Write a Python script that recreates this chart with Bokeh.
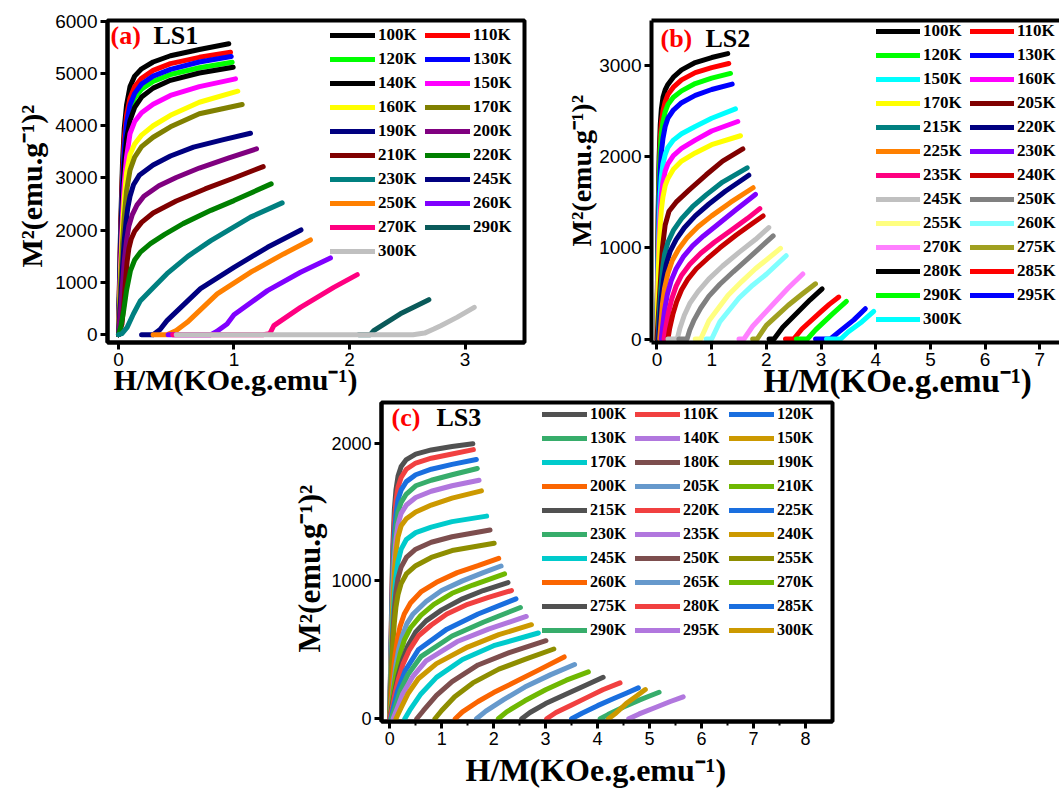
from bokeh.plotting import figure
from bokeh.models import Range1d, FixedTicker, Legend, LegendItem, Label, LinearAxis, Spacer, Title
from bokeh.layouts import column, row
from bokeh.embed import file_html
from bokeh.resources import INLINE

# ---------------- Panel (a) LS1 ----------------
a_temps = [100, 110, 120, 130, 140, 150, 160, 170, 190, 200, 210, 220, 230, 245, 250, 260, 270, 290, 300]
a_xlow = [0, 0.01, 0.02, 0.035, 0.05, 0.07, 0.1, 0.14, 0.2, 0.3, 0.45, 0.7]
a_x = [
    a_xlow + [0.955],
    a_xlow + [0.97],
    a_xlow + [0.984],
    a_xlow + [0.976],
    a_xlow + [0.993],
    a_xlow + [1.013],
    a_xlow + [1.033],
    a_xlow + [1.071],
    [0, 0.02, 0.035, 0.05, 0.065, 0.08, 0.1, 0.13, 0.18, 0.3, 0.45, 0.65, 0.9, 1.143],
    [0, 0.02, 0.035, 0.05, 0.07, 0.09, 0.12, 0.16, 0.22, 0.35, 0.5, 0.7, 0.95, 1.195],
    [0, 0.03, 0.045, 0.06, 0.075, 0.09, 0.11, 0.14, 0.2, 0.3, 0.5, 0.75, 1.0, 1.253],
    [0, 0.02, 0.045, 0.07, 0.104, 0.14, 0.19, 0.277, 0.4, 0.56, 0.8, 1.0, 1.322],
    [0, 0.03, 0.075, 0.13, 0.19, 0.3, 0.42, 0.6, 0.8, 1.143, 1.417],
    [0.2, 0.3, 0.36, 0.42, 0.71, 1.0, 1.29, 1.58],
    [0.3, 0.42, 0.5, 0.595, 0.855, 1.143, 1.43, 1.662],
    [0.43, 0.8, 0.85, 0.94, 1.0, 1.29, 1.576, 1.835],
    [0.47, 1.25, 1.31, 1.345, 1.576, 1.864, 2.067],
    [2.08, 2.18, 2.21, 2.44, 2.687],
    [0.5, 2.55, 2.65, 2.73, 2.79, 2.93, 3.08],
]
a_y = [
    [0, 1200, 2200, 3300, 3950, 4400, 4750, 4950, 5090, 5220, 5340, 5460, 5569],
    [0, 1100, 2000, 3100, 3750, 4200, 4530, 4750, 4910, 5060, 5190, 5310, 5408],
    [0, 900, 1750, 2800, 3450, 3950, 4300, 4530, 4700, 4850, 4980, 5110, 5217],
    [0, 1000, 1850, 2900, 3550, 4050, 4400, 4620, 4800, 4950, 5080, 5220, 5326],
    [0, 850, 1650, 2600, 3250, 3750, 4100, 4350, 4550, 4720, 4870, 5010, 5121],
    [0, 750, 1450, 2300, 2900, 3400, 3850, 4080, 4250, 4410, 4580, 4750, 4898],
    [0, 650, 1250, 2050, 2600, 3100, 3450, 3650, 3820, 4000, 4200, 4450, 4661],
    [0, 550, 1050, 1750, 2250, 2750, 3150, 3400, 3600, 3780, 3980, 4230, 4406],
    [0, 700, 1300, 1800, 2150, 2420, 2650, 2870, 3050, 3250, 3420, 3590, 3730, 3857],
    [0, 500, 950, 1400, 1800, 2080, 2300, 2480, 2650, 2850, 3010, 3190, 3380, 3557],
    [0, 200, 550, 1000, 1400, 1650, 1830, 1980, 2150, 2330, 2560, 2790, 3000, 3218],
    [0, 150, 460, 850, 1226, 1430, 1580, 1743, 1920, 2126, 2380, 2567, 2887],
    [0, 20, 140, 400, 651, 900, 1168, 1500, 1800, 2250, 2523],
    [0, 0, 100, 268, 881, 1290, 1672, 2005],
    [0, 0, 80, 236, 780, 1194, 1546, 1814],
    [0, 0, 60, 205, 380, 843, 1194, 1469],
    [0, 0, 20, 172, 523, 906, 1149],
    [0, 0, 77, 400, 670],
    [0, 0, 30, 108, 172, 331, 523],
]
a_colors = ["#000000", "#ff0000", "#00ff00", "#0000ff", "#000000", "#ff00ff", "#ffff00", "#808000",
            "#000080", "#800080", "#800000", "#008000", "#008080", "#000080", "#ff8000", "#8000ff",
            "#ff0080", "#0a5a5a", "#c0c0c0"]
a_xticks = [0, 1, 2, 3]
a_yticks = [0, 1000, 2000, 3000, 4000, 5000, 6000]

# ---------------- Panel (b) LS2 ----------------
b_temps = [100, 110, 120, 130, 150, 160, 170, 205, 215, 220, 225, 230, 235, 240, 245, 250, 255, 260,
           270, 275, 280, 285, 290, 295, 300]
b_xlow = [0, 0.01, 0.025, 0.04, 0.06, 0.08, 0.11, 0.15, 0.2, 0.3, 0.45, 0.7, 1.0]
b_x = [
    b_xlow + [1.294],
    b_xlow + [1.313],
    b_xlow + [1.344],
    b_xlow + [1.375],
    b_xlow + [1.435],
    b_xlow + [1.478],
    b_xlow + [1.527],
    [0, 0.03, 0.07, 0.1, 0.15, 0.22, 0.35, 0.6, 0.9, 1.2, 1.57],
    [0.02, 0.04, 0.07, 0.1, 0.14, 0.2, 0.3, 0.45, 0.65, 0.9, 1.2, 1.649],
    [0.03, 0.05, 0.08, 0.12, 0.17, 0.24, 0.35, 0.5, 0.7, 0.95, 1.25, 1.679],
    [0.05, 0.07, 0.1, 0.14, 0.2, 0.28, 0.4, 0.55, 0.75, 1.0, 1.35, 1.758],
    [0.08, 0.1, 0.14, 0.19, 0.26, 0.35, 0.48, 0.65, 0.85, 1.1, 1.45, 1.8],
    [0.13, 0.16, 0.21, 0.27, 0.35, 0.45, 0.6, 0.8, 1.05, 1.35, 1.65, 1.88],
    [0.2, 0.23, 0.29, 0.36, 0.45, 0.57, 0.72, 0.92, 1.15, 1.45, 1.75, 1.94],
    [0.2, 0.37, 0.42, 0.5, 0.6, 0.75, 0.95, 1.2, 1.5, 1.8, 2.044],
    [0.4, 0.55, 0.6, 0.68, 0.8, 0.95, 1.15, 1.4, 1.7, 2.124],
    [0.7, 0.8, 0.95, 1.3, 1.55, 1.8, 2.258],
    [0.9, 1.0, 1.15, 1.5, 1.75, 2.0, 2.362],
    [1.5, 1.59, 1.75, 2.135, 2.4, 2.666],
    [1.75, 1.83, 2.0, 2.4, 2.65, 2.898],
    [2.05, 2.14, 2.3, 2.6, 2.8, 3.02],
    [2.35, 2.5, 2.65, 3.0, 3.15, 3.324],
    [2.55, 2.75, 2.9, 3.2, 3.464],
    [2.9, 3.17, 3.35, 3.6, 3.81],
    [3.1, 3.36, 3.5, 3.75, 3.963],
]
b_y = [
    [0, 700, 1500, 2000, 2350, 2520, 2650, 2730, 2790, 2870, 2950, 3030, 3085, 3128],
    [0, 650, 1400, 1850, 2200, 2370, 2500, 2600, 2680, 2760, 2840, 2920, 2975, 3020],
    [0, 600, 1300, 1750, 2080, 2250, 2380, 2490, 2570, 2650, 2720, 2800, 2860, 2911],
    [0, 550, 1150, 1550, 1850, 2050, 2200, 2330, 2420, 2510, 2590, 2670, 2735, 2794],
    [0, 450, 950, 1300, 1600, 1780, 1920, 2020, 2100, 2180, 2250, 2330, 2420, 2522],
    [0, 400, 850, 1150, 1400, 1570, 1720, 1840, 1920, 2010, 2090, 2180, 2280, 2384],
    [0, 350, 750, 1000, 1250, 1420, 1560, 1680, 1760, 1860, 1950, 2040, 2130, 2228],
    [0, 300, 700, 1000, 1250, 1400, 1500, 1640, 1800, 1950, 2083],
    [0, 250, 550, 760, 930, 1060, 1190, 1320, 1450, 1580, 1720, 1876],
    [0, 200, 450, 650, 820, 960, 1090, 1220, 1350, 1480, 1620, 1795],
    [0, 150, 380, 560, 720, 860, 990, 1110, 1230, 1350, 1500, 1658],
    [0, 120, 320, 490, 640, 770, 900, 1020, 1130, 1250, 1420, 1585],
    [0, 120, 290, 440, 580, 700, 820, 940, 1060, 1190, 1320, 1429],
    [0, 110, 270, 410, 540, 660, 770, 880, 1000, 1140, 1270, 1349],
    [0, 0, 120, 260, 390, 520, 660, 800, 950, 1090, 1222],
    [0, 0, 100, 210, 340, 470, 600, 740, 900, 1131],
    [0, 0, 200, 480, 630, 770, 993],
    [0, 0, 190, 450, 590, 710, 913],
    [0, 0, 140, 390, 560, 713],
    [0, 0, 150, 370, 490, 605],
    [0, 0, 130, 310, 430, 550],
    [0, 0, 110, 300, 380, 460],
    [0, 0, 100, 270, 412],
    [0, 0, 90, 210, 332],
    [0, 0, 80, 190, 303],
]
b_colors = ["#000000", "#ff0000", "#00ff00", "#0000ff", "#00ffff", "#ff00ff", "#ffff00", "#800000",
            "#008080", "#000080", "#ff8000", "#8000ff", "#ff0080", "#c80000", "#c0c0c0", "#808080",
            "#ffff80", "#80ffff", "#ff80ff", "#a0a020", "#000000", "#ff0000", "#00ff00", "#0000ff",
            "#00ffff"]
b_xticks = [0, 1, 2, 3, 4, 5, 6, 7]
b_yticks = [0, 1000, 2000, 3000]

# ---------------- Panel (c) LS3 ----------------
c_temps = [100, 110, 120, 130, 140, 150, 170, 180, 190, 200, 205, 210, 215, 220, 225, 230, 235, 240,
           245, 250, 255, 260, 265, 270, 275, 280, 285, 290, 295, 300]
c_xlow = [0, 0.02, 0.04, 0.06, 0.09, 0.12, 0.16, 0.22, 0.32, 0.5, 0.8, 1.2]
c_x = [
    c_xlow + [1.6],
    c_xlow + [1.61],
    c_xlow + [1.667],
    c_xlow + [1.686],
    c_xlow + [1.719],
    c_xlow + [1.765],
    c_xlow + [1.865],
    c_xlow + [1.93],
    c_xlow + [2.01],
    [0, 0.03, 0.06, 0.1, 0.15, 0.2, 0.28, 0.4, 0.6, 0.9, 1.3, 1.7, 2.097],
    [0, 0.04, 0.08, 0.12, 0.17, 0.24, 0.33, 0.45, 0.7, 1.0, 1.4, 1.8, 2.143],
    [0, 0.04, 0.08, 0.13, 0.2, 0.28, 0.4, 0.6, 0.85, 1.2, 1.6, 2.21],
    [0, 0.05, 0.1, 0.16, 0.25, 0.35, 0.5, 0.7, 1.0, 1.4, 1.8, 2.276],
    [0, 0.05, 0.1, 0.17, 0.26, 0.38, 0.55, 0.8, 1.1, 1.5, 1.9, 2.343],
    [0.02, 0.07, 0.15, 0.3, 0.55, 1.1, 1.7, 2.43],
    [0.03, 0.1, 0.2, 0.35, 0.6, 1.2, 1.8, 2.515],
    [0.067, 0.15, 0.25, 0.45, 0.7, 1.3, 1.9, 2.628],
    [0.12, 0.22, 0.35, 0.55, 0.9, 1.5, 2.1, 2.727],
    [0.29, 0.4, 0.6, 0.9, 1.4, 2.0, 2.86],
    [0.52, 0.65, 0.9, 1.2, 1.7, 2.3, 3.006],
    [0.87, 1.0, 1.25, 1.6, 2.1, 2.6, 3.158],
    [1.26, 1.4, 1.7, 2.0, 2.35, 2.9, 3.357],
    [1.67, 1.85, 2.2, 2.6, 3.1, 3.557],
    [2.09, 2.25, 2.6, 3.0, 3.4, 3.822],
    [2.54, 2.7, 3.0, 3.4, 3.75, 4.107],
    [3.02, 3.2, 3.5, 3.8, 4.1, 4.432],
    [3.5, 3.7, 4.0, 4.3, 4.55, 4.784],
    [4.05, 4.2, 4.5, 4.8, 5.0, 5.183],
    [4.6, 4.8, 5.1, 5.4, 5.647],
    [4.21, 4.35, 4.55, 4.75, 4.918],
]
c_y = [
    [0, 450, 900, 1250, 1520, 1660, 1760, 1830, 1880, 1920, 1950, 1975, 1995],
    [0, 420, 840, 1170, 1430, 1580, 1680, 1750, 1810, 1855, 1890, 1920, 1952],
    [0, 390, 780, 1090, 1340, 1480, 1590, 1660, 1720, 1770, 1810, 1845, 1880],
    [0, 360, 720, 1010, 1250, 1390, 1500, 1570, 1630, 1690, 1730, 1770, 1815],
    [0, 330, 660, 930, 1160, 1300, 1410, 1490, 1550, 1605, 1650, 1690, 1730],
    [0, 300, 600, 850, 1070, 1210, 1320, 1400, 1450, 1500, 1550, 1600, 1653],
    [0, 250, 500, 700, 900, 1030, 1140, 1230, 1300, 1350, 1390, 1430, 1470],
    [0, 220, 440, 620, 800, 920, 1020, 1100, 1170, 1230, 1280, 1320, 1369],
    [0, 190, 380, 540, 700, 810, 900, 980, 1050, 1110, 1170, 1220, 1273],
    [0, 150, 300, 450, 580, 670, 760, 840, 920, 990, 1060, 1110, 1164],
    [0, 130, 270, 390, 500, 600, 690, 760, 850, 930, 1000, 1060, 1108],
    [0, 110, 230, 350, 470, 570, 660, 750, 830, 910, 970, 1051],
    [0, 100, 200, 310, 430, 530, 630, 710, 790, 870, 930, 988],
    [0, 80, 180, 290, 400, 500, 600, 680, 760, 830, 880, 930],
    [0, 80, 200, 350, 500, 650, 760, 870],
    [0, 80, 200, 320, 450, 600, 700, 807],
    [0, 80, 180, 310, 420, 560, 650, 742],
    [0, 80, 180, 290, 400, 520, 610, 682],
    [0, 70, 180, 300, 430, 530, 622],
    [0, 60, 170, 270, 390, 480, 566],
    [0, 60, 160, 260, 360, 430, 506],
    [0, 50, 125, 190, 255, 360, 448],
    [0, 55, 140, 230, 320, 393],
    [0, 50, 130, 210, 280, 340],
    [0, 45, 110, 180, 240, 301],
    [0, 45, 100, 155, 210, 260],
    [0, 40, 95, 145, 185, 224],
    [0, 30, 85, 135, 165, 192],
    [0, 35, 80, 125, 159],
    [0, 40, 110, 165, 212],
]
c_palette = ["#515151", "#f14040", "#1a6fdf", "#37ad6b", "#b177de", "#cc9900",
             "#00cbcc", "#7d4e4e", "#8e8e00", "#fb6501", "#6699cc", "#6fb802"]
c_xticks = [0, 1, 2, 3, 4, 5, 6, 7, 8]
c_xminor = [0.5, 1.5, 2.5, 3.5, 4.5, 5.5, 6.5, 7.5]
c_yticks = [0, 1000, 2000]

SERIF = "Liberation Serif"
SANS = "Liberation Sans"
YTITLE = "M\u00b2(emu.g\u207b\u00b9)\u00b2"
XTITLE = "H/M(KOe.g.emu\u207b\u00b9)"


def base(width, height, xr, yr, borders, xticks, yticks, xminor=None, outline=True, tick_size="19px"):
    p = figure(width=width, height=height, x_range=Range1d(*xr), y_range=Range1d(*yr),
               output_backend="svg", toolbar_location=None,
               min_border_left=borders[0], min_border_right=borders[1],
               min_border_top=borders[2], min_border_bottom=borders[3])
    p.xgrid.visible = False
    p.ygrid.visible = False
    p.background_fill_color = "white"
    p.border_fill_color = "white"
    if outline:
        p.outline_line_color = "black"
        p.outline_line_width = 4
    else:
        p.outline_line_color = None
    p.xaxis.ticker = FixedTicker(ticks=xticks, minor_ticks=xminor or [])
    p.yaxis.ticker = FixedTicker(ticks=yticks)
    for ax in (p.xaxis[0], p.yaxis[0]):
        ax.axis_line_width = 4
        ax.axis_line_color = "black"
        ax.major_tick_line_width = 3
        ax.major_tick_out = 7
        ax.major_tick_in = 0
        ax.minor_tick_line_width = 2
        ax.minor_tick_out = 4
        ax.minor_tick_in = 0
        ax.major_label_text_font = SANS
        ax.major_label_text_font_size = tick_size
        ax.major_label_text_color = "black"
        ax.major_label_standoff = 3
    if not xminor:
        p.xaxis.minor_tick_line_color = None
    p.yaxis.minor_tick_line_color = None
    return p


def txt(p, x, y, s, size, color="black"):
    p.add_layout(Label(x=x, y=y, x_units="screen", y_units="screen", text=s,
                       text_font=SERIF, text_font_style="bold", text_font_size=size,
                       text_color=color, text_align="left", text_baseline="middle"))


def axis_title(p, side, s, size, offset, standoff):
    p.add_layout(Title(text=s, align="left", offset=offset, standoff=standoff,
                       text_font=SERIF, text_font_style="bold", text_font_size=size,
                       text_color="black"), side)


def legend_col(p, items, left, top, frame_left, frame_bottom, size, gw=45):
    n = len(items)
    h = n * 20 + (n - 1) * 4
    leg = Legend(items=items, location=(left - frame_left, frame_bottom - (top + h)),
                 orientation="vertical", glyph_width=gw, glyph_height=20, label_height=20,
                 spacing=4, padding=0, margin=0, label_standoff=3,
                 border_line_color=None, background_fill_alpha=0,
                 label_text_font=SERIF, label_text_font_style="bold",
                 label_text_font_size=size, label_text_color="black")
    p.add_layout(leg)


def draw(p, temps, xs, ys, colors):
    items = []
    for t, x, y, c in zip(temps, xs, ys, colors):
        r = p.line(x, y, line_width=5, line_color=c, line_cap="round", line_join="round")
        items.append(LegendItem(label=f"{t}K", renderers=[r]))
    return items


# ---- panel a: canvas at page (0,0); frame left 107, right 524, top 20, bottom 342
pa = base(560, 400, (-0.095, 3.515), (-150, 6015), (107, 36, 20, 58), a_xticks, a_yticks)
items_a = draw(pa, a_temps, a_x, a_y, a_colors)
legend_col(pa, items_a[0::2], 330, 25, 107, 342, "17px")
legend_col(pa, items_a[1::2], 425, 25, 107, 342, "17px")
txt(pa, 3, 307, "(a)", "26px", color="#ff0000")
txt(pa, 46, 307, "LS1", "26px")
axis_title(pa, "left", YTITLE, "30px", 75, 10)
axis_title(pa, "below", XTITLE, "30px", 6, -16)

# ---- panel b: canvas at page (560,0); frame left 651, top 20, bottom 344, open right edge
pb = base(499, 400, (-0.1, 7.36), (-38, 3491), (91, 0, 20, 56), b_xticks, b_yticks, outline=False)
top_axis = LinearAxis(ticker=FixedTicker(ticks=[]), axis_line_width=4, axis_line_color="black",
                      major_tick_line_color=None, minor_tick_line_color=None,
                      major_label_text_font_size="0px")
pb.add_layout(top_axis, "above")
items_b = draw(pb, b_temps, b_x, b_y, b_colors)
legend_col(pb, items_b[0::2], 876, 23, 651, 344, "17px", gw=44)
legend_col(pb, items_b[1::2], 970, 23, 651, 344, "17px", gw=44)
txt(pb, 9, 304, "(b)", "26px", color="#ff0000")
txt(pb, 54, 304, "LS2", "26px")
axis_title(pb, "left", YTITLE, "28px", 96, 0)
axis_title(pb, "below", XTITLE, "33px", 112, -16)

# ---- panel c: canvas at page (280,400); frame left 381, right 832, top 402, bottom 722
c_colors = [c_palette[i % len(c_palette)] for i in range(len(c_temps))]
pc = base(562, 390, (-0.158, 8.52), (-20, 2294), (101, 10, 2, 68), c_xticks, c_yticks,
          xminor=c_xminor, tick_size="18px")
items_c = draw(pc, c_temps, c_x, c_y, c_colors)
legend_col(pc, items_c[0::3], 542, 405, 381, 722, "16px")
legend_col(pc, items_c[1::3], 635, 405, 381, 722, "16px")
legend_col(pc, items_c[2::3], 729, 405, 381, 722, "16px")
txt(pc, 10, 304, "(c)", "26px", color="#ff0000")
txt(pc, 55, 304, "LS3", "26px")
axis_title(pc, "left", YTITLE, "31px", 69, 3)
axis_title(pc, "below", XTITLE, "32px", 84, 5)

layout = column(row(pa, pb), row(Spacer(width=280, height=390), pc))
open("out.html", "w").write(file_html(layout, INLINE))
